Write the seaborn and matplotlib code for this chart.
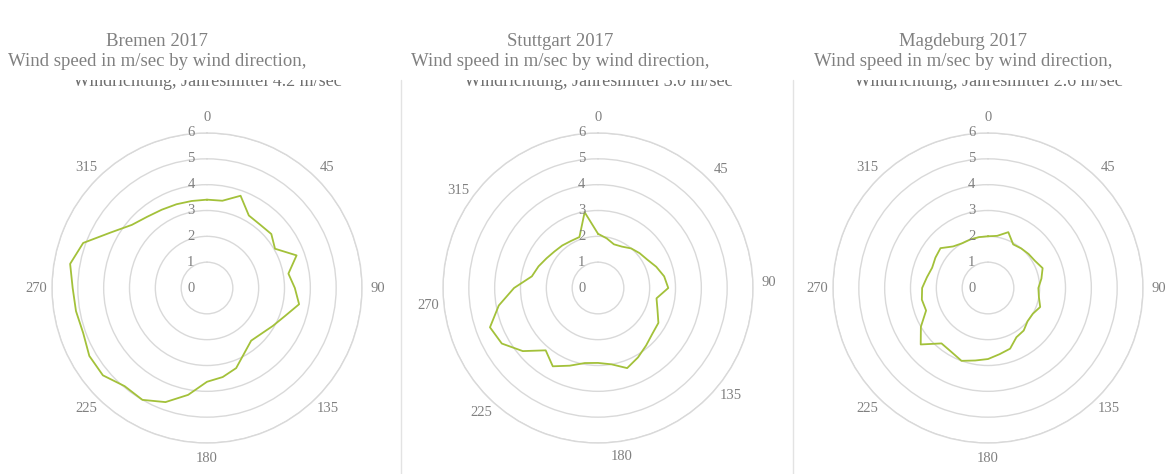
import numpy as np
import matplotlib
matplotlib.use("Agg")
import matplotlib.pyplot as plt
from matplotlib.patches import Rectangle
from matplotlib.lines import Line2D
import seaborn as sns

# Wind direction bins (degrees) and mean wind speed per bin (m/sec)
directions = list(range(0, 360, 10))

bremen_speed = [3.42, 3.43, 3.80, 3.24, 3.20, 3.25, 3.04, 3.69, 3.20, 3.40,
                3.62, 3.20, 2.94, 2.75, 2.66, 2.90, 3.30, 3.50, 3.63, 4.20,
                4.70, 5.00, 4.96, 5.26, 5.26, 5.10, 5.15, 5.20, 5.38, 5.10,
                4.30, 3.80, 3.60, 3.50, 3.45, 3.42]

stuttgart_speed = [2.10, 1.95, 1.80, 1.85, 2.00, 2.10, 2.20, 2.40, 2.60, 2.72,
                   2.30, 2.45, 2.70, 2.75, 2.90, 3.10, 3.30, 3.00, 2.90, 2.95,
                   3.20, 3.50, 3.15, 3.80, 4.30, 4.45, 3.90, 3.25, 2.60, 2.45,
                   2.30, 2.20, 2.15, 2.10, 2.10, 2.98]

magdeburg_speed = [2.00, 2.05, 2.30, 1.95, 2.00, 2.05, 2.10, 2.25, 2.10, 1.95,
                   2.00, 2.15, 2.00, 2.00, 2.15, 2.20, 2.50, 2.60, 2.75, 2.85,
                   3.00, 2.85, 2.80, 3.40, 3.00, 2.55, 2.60, 2.55, 2.40, 2.30,
                   2.35, 2.40, 2.10, 2.00, 2.00, 2.00]

cities = ["Bremen", "Stuttgart", "Magdeburg"]
annual_mean = ["4.2", "3.0", "2.6"]
speeds = [bremen_speed, stuttgart_speed, magdeburg_speed]

direction_labels = ["0", "45", "90", "135", "180", "225", "270", "315"]
# angular placement of the direction labels on each panel
label_angles = [
    [0, 45, 90, 135, 180, 225, 270, 315],
    [0, 46, 88, 129, 172, 223, 264, 305],
    [0, 45, 90, 135, 180, 225, 270, 315],
]
rings = [0, 1, 2, 3, 4, 5, 6]

sns.set_theme(style="white")
plt.rcParams["font.family"] = ["Liberation Serif", "DejaVu Serif"]

W, H = 1176, 474
fig = plt.figure(figsize=(W / 100, H / 100), dpi=100)
fig.patch.set_facecolor("white")

line_color = "#a3c13a"
grid_color = "#d9d9d9"
text_color = "#808080"

centers_x = [207, 598, 988]
title_x = [157, 560, 963]
center_y = 288
radius_px = 155

for i, city in enumerate(cities):
    cx = centers_x[i]
    ax = fig.add_axes([(cx - radius_px) / W, (H - center_y - radius_px) / H,
                       2 * radius_px / W, 2 * radius_px / H], projection="polar")
    ax.set_theta_zero_location("N")
    ax.set_theta_direction(-1)
    ax.set_facecolor("none")

    theta = np.deg2rad(directions + [directions[0] + 360])
    r = speeds[i] + [speeds[i][0]]
    sns.lineplot(x=theta, y=r, ax=ax, sort=False, color=line_color,
                 linewidth=1.3, zorder=3)
    ax.set_xlabel("")
    ax.set_ylabel("")

    ax.set_ylim(0, 6)
    ax.set_yticks(rings[1:])
    ax.set_yticklabels([])
    ax.yaxis.grid(True, color=grid_color, linewidth=1.0)
    ax.xaxis.grid(False)
    ax.set_xticks([])
    ax.spines["polar"].set_color(grid_color)
    ax.spines["polar"].set_linewidth(1.0)

    # direction labels just outside the outer ring
    for ang, lab in zip(label_angles[i], direction_labels):
        ax.text(np.deg2rad(ang), 6.6, lab, ha="center", va="center",
                fontsize=10.5, color=text_color, clip_on=False)

    # speed labels along the north axis
    for k in rings:
        ax.annotate(str(k), xy=(0, k), xytext=(-9, 0), textcoords="offset points",
                    ha="right", va="center", fontsize=10.5, color=text_color,
                    annotation_clip=False)

    # subtitle line partly hidden behind the title box
    fig.text(cx / W, 1 - 86 / H, f"Windrichtung, Jahresmittel {annual_mean[i]} m/sec",
             ha="center", va="baseline", fontsize=13, color="#6f6f6f", zorder=1)
    left = [8, 402, 794][i]
    right = [395, 790, 1176][i]
    fig.patches.append(Rectangle((left / W, 1 - 79.5 / H), (right - left) / W, 79.5 / H,
                                 transform=fig.transFigure, facecolor="white",
                                 edgecolor="none", zorder=2))
    fig.text(title_x[i] / W, 1 - 42 / H, f"{city} 2017", ha="center", va="center",
             fontsize=13.5, color=text_color, zorder=3)
    fig.text(title_x[i] / W, 1 - 62 / H, "Wind speed in m/sec by wind direction,",
             ha="center", va="center", fontsize=13.5, color=text_color, zorder=3)

# panel separators
for x in [401, 793]:
    fig.lines.append(Line2D([x / W, x / W], [0, 1 - 80 / H], transform=fig.transFigure,
                            color="#e3e3e3", linewidth=1.0))

fig.savefig("out.png", dpi=100, facecolor="white")
